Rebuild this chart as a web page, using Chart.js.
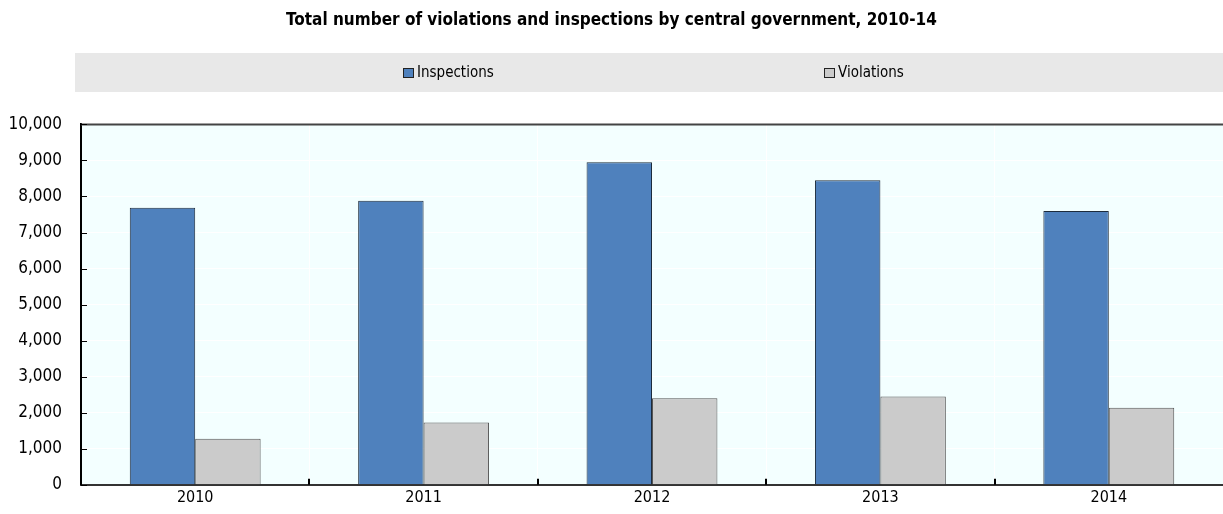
<!DOCTYPE html>
<html>
<head>
<meta charset="utf-8">
<script src="https://cdn.jsdelivr.net/npm/chart.js@4/dist/chart.umd.min.js"></script>
<style>
    html, body { margin: 0; padding: 0; background: #fff; }
    #wrap { position: relative; width: 1223px; height: 514px; }
</style>
</head>
<body>
<div id="wrap"><canvas id="chart"></canvas></div>
<script>
// Data
const years = ['2010', '2011', '2012', '2013', '2014'];
const inspections = [7690, 7880, 8950, 8450, 7600];
const violations = [1280, 1730, 2400, 2450, 2140];
const yTicks = [0, 1000, 2000, 3000, 4000, 5000, 6000, 7000, 8000, 9000, 10000];

const FONT = "'Liberation Sans Narrow', 'DejaVu Sans Condensed', 'Arial Narrow', sans-serif";

// Background of the plot, grey legend band and hand-drawn legend
const framePlugin = {
    id: 'frame',
    beforeDraw(chart) {
        const { ctx, chartArea: a } = chart;
        ctx.save();
        ctx.fillStyle = '#F3FFFF';
        ctx.fillRect(a.left, a.top, a.right - a.left, a.bottom - a.top);
        ctx.fillStyle = '#E8E8E8';
        ctx.fillRect(75, 53, chart.width - 75, 39);
        ctx.restore();
    },
    afterDatasetsDraw(chart) {
        const { ctx, chartArea: a, scales } = chart;
        ctx.save();
        // top border
        ctx.strokeStyle = '#444';
        ctx.lineWidth = 2;
        ctx.beginPath();
        ctx.moveTo(a.left, a.top);
        ctx.lineTo(a.right, a.top);
        ctx.stroke();
        // inward ticks on y axis
        ctx.strokeStyle = '#000';
        ctx.lineWidth = 1;
        yTicks.forEach(v => {
            const y = Math.round(scales.y.getPixelForValue(v)) + 0.5;
            ctx.beginPath();
            ctx.moveTo(a.left, y);
            ctx.lineTo(a.left + 6, y);
            ctx.stroke();
        });
        // inward ticks on x axis at category boundaries
        ctx.lineWidth = 2;
        for (let i = 0; i < years.length - 1; i++) {
            const x = Math.round((scales.x.getPixelForValue(i) + scales.x.getPixelForValue(i + 1)) / 2);
            ctx.beginPath();
            ctx.moveTo(x, a.bottom);
            ctx.lineTo(x, a.bottom - 6);
            ctx.stroke();
        }
        ctx.restore();
    },
    afterDraw(chart) {
        const { ctx } = chart;
        const itemX = [403, 824];
        ctx.save();
        ctx.font = '15px ' + FONT;
        ctx.textBaseline = 'middle';
        chart.data.datasets.forEach((ds, i) => {
            const x = itemX[i];
            ctx.fillStyle = ds.backgroundColor;
            ctx.fillRect(x, 68, 10, 9);
            ctx.strokeStyle = '#222';
            ctx.lineWidth = 1;
            ctx.strokeRect(x + 0.5, 68.5, 10, 9);
            ctx.fillStyle = '#000';
            ctx.fillText(ds.label, x + 14, 73);
        });
        ctx.restore();
    }
};

const ctx = document.getElementById('chart').getContext('2d');
new Chart(ctx, {
    type: 'bar',
    data: {
        labels: years,
        datasets: [
            {
                label: 'Inspections',
                data: inspections,
                backgroundColor: '#4F81BD',
                borderColor: '#1C2B3C',
                borderWidth: 1
            },
            {
                label: 'Violations',
                data: violations,
                backgroundColor: '#CBCBCB',
                borderColor: '#555555',
                borderWidth: 1
            }
        ]
    },
    options: {
        responsive: true,
        maintainAspectRatio: false,
        animation: false,
        layout: { padding: { left: 0, right: 0, top: 0, bottom: 2 } },
        categoryPercentage: 0.573,
        barPercentage: 1.0,
        plugins: {
            legend: { display: false },
            tooltip: { enabled: false },
            title: {
                display: true,
                text: 'Total number of violations and inspections by central government, 2010-14',
                color: '#000',
                font: { family: FONT, size: 17, weight: 'bold' },
                padding: { top: 10, bottom: 94 }
            }
        },
        scales: {
            x: {
                grid: { color: '#FFFFFF', lineWidth: 1, offset: true, drawTicks: false },
                border: { color: '#333', width: 2 },
                ticks: {
                    color: '#000',
                    font: { family: FONT, size: 16 },
                    padding: 3
                }
            },
            y: {
                min: 0,
                max: 10000,
                afterFit(scale) { scale.width = 81; },
                afterBuildTicks(scale) { scale.ticks = yTicks.map(v => ({ value: v })); },
                grid: { color: '#FFFFFF', lineWidth: 1, drawTicks: false },
                border: { color: '#000', width: 2 },
                ticks: {
                    color: '#000',
                    font: { family: FONT, size: 17 },
                    padding: 19,
                    callback: v => v.toLocaleString('en-US')
                }
            }
        }
    },
    plugins: [framePlugin]
});
</script>
</body>
</html>
